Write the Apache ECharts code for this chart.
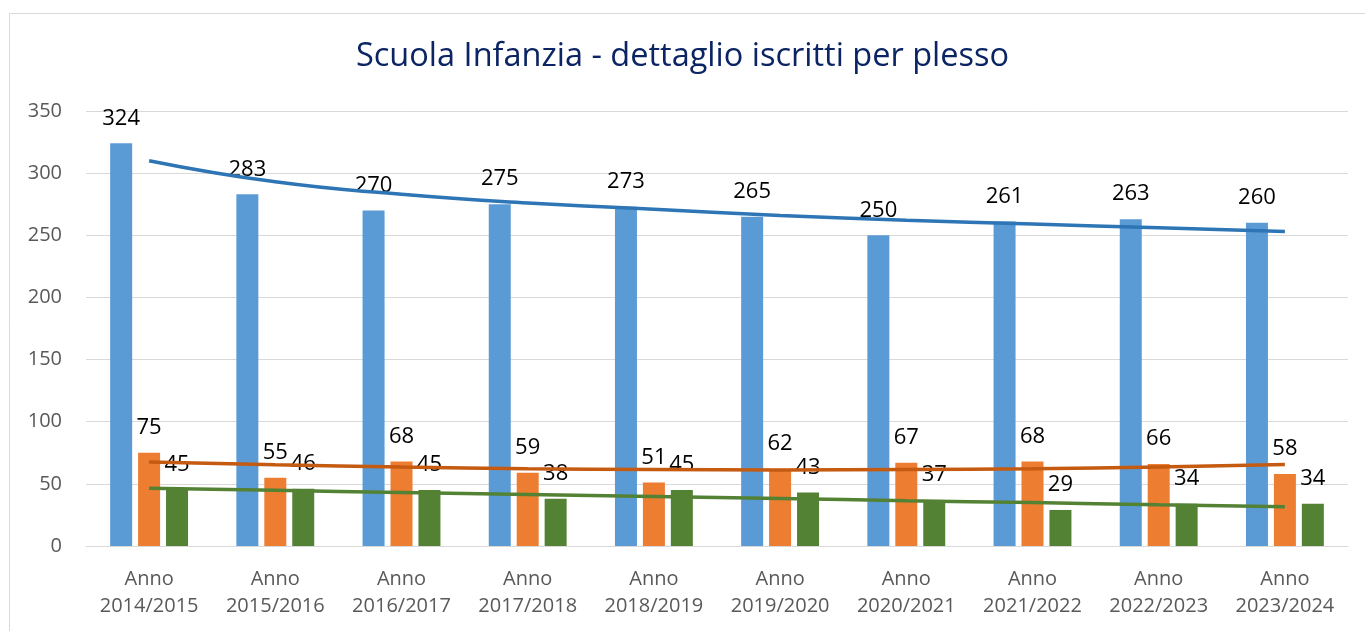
<!DOCTYPE html>
<html>
<head>
<meta charset="utf-8">
<script src="https://cdn.jsdelivr.net/npm/echarts@6/dist/echarts.min.js"></script>
<style>
  html, body { margin: 0; padding: 0; background: #fff; }
  #main { width: 1365px; height: 631px; }
</style>
</head>
<body>
<div id="main"></div>
<script>
// dati
var anni = ["2014/2015", "2015/2016", "2016/2017", "2017/2018", "2018/2019",
  "2019/2020", "2020/2021", "2021/2022", "2022/2023", "2023/2024"];
var serieBlu = [324, 283, 270, 275, 273, 265, 250, 261, 263, 260];
var serieArancio = [75, 55, 68, 59, 51, 62, 67, 68, 66, 58];
var serieVerde = [45, 46, 45, 38, 45, 43, 37, 29, 34, 34];
// linee di tendenza (valori stimati dal grafico)
var tendBlu = [310, 293, 283, 276, 271, 266, 262, 259, 256, 253];
var tendArancio = [67.6, 65.3, 63.5, 62.2, 61.5, 61.2, 61.5, 62.2, 63.5, 65.5];
var tendVerde = [46.4, 44.8, 43.1, 41.5, 39.8, 38.2, 36.5, 34.9, 33.2, 31.6];

var font = "'Open Sans', 'Noto Sans', sans-serif";

var etichetta = {
  show: true,
  position: "top",
  distance: 14,
  color: "#000",
  fontSize: 22,
  fontFamily: font
};

function barra(nome, dati, colore) {
  return {
    name: nome,
    type: "bar",
    data: dati,
    barWidth: 22,
    barGap: "27%",
    itemStyle: { color: colore },
    label: etichetta,
    z: 2
  };
}

function tendenza(dati, colore) {
  return {
    type: "line",
    data: dati,
    smooth: true,
    symbol: "none",
    lineStyle: { color: colore, width: 3.5 },
    z: 3,
    silent: true
  };
}

var myChart = echarts.init(document.getElementById("main"));
myChart.setOption({
  animation: false,
  title: {
    text: "Scuola Infanzia - dettaglio iscritti per plesso",
    left: "center",
    top: 35,
    textStyle: { color: "#0B2463", fontSize: 32.5, fontWeight: "normal", fontFamily: font }
  },
  graphic: [{
    type: "rect",
    shape: { x: 9.5, y: 13.5, width: 1400, height: 700 },
    style: { fill: "none", stroke: "#d9d9d9", lineWidth: 1 },
    silent: true
  }],
  grid: { left: 86, right: 17, top: 111, bottom: 85 },
  xAxis: {
    type: "category",
    data: anni.map(function (a) { return "Anno\n" + a; }),
    axisLine: { lineStyle: { color: "#d9d9d9", width: 1 } },
    axisTick: { show: false },
    axisLabel: { interval: 0, color: "#595959", fontSize: 20, lineHeight: 27, margin: 20, fontFamily: font }
  },
  yAxis: {
    type: "value",
    min: 0,
    max: 350,
    interval: 50,
    axisLine: { show: false },
    axisTick: { show: false },
    splitLine: { lineStyle: { color: "#d9d9d9", width: 1 } },
    axisLabel: { color: "#595959", fontSize: 20, margin: 24, fontFamily: font }
  },
  series: [
    barra("Plesso 1", serieBlu, "#5B9BD5"),
    barra("Plesso 2", serieArancio, "#ED7D31"),
    barra("Plesso 3", serieVerde, "#548235"),
    tendenza(tendBlu, "#2E75B6"),
    tendenza(tendArancio, "#C55A11"),
    tendenza(tendVerde, "#548235")
  ]
});
</script>
</body>
</html>
